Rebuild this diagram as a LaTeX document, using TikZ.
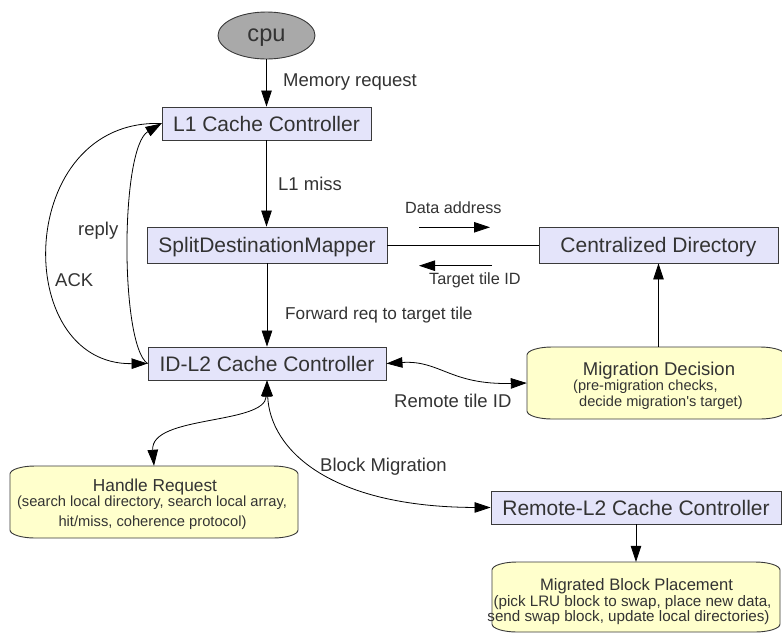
\documentclass[tikz,border=0pt]{standalone}
\usepackage{fontspec}
\setmainfont{Liberation Sans}
\usetikzlibrary{arrows.meta,shapes.geometric,calc}

\definecolor{ink}{HTML}{333333}
\definecolor{edge}{HTML}{3A3A3A}
\definecolor{lav}{HTML}{E4E4FA}
\definecolor{cream}{HTML}{FFFFCC}
\definecolor{cpugray}{HTML}{A9A9A9}

\newcommand{\fs}[1]{\fontsize{#1}{#1}\selectfont}

\tikzset{
  unitbox/.style={draw=edge, fill=lav, line width=0.9pt, inner sep=0pt, text=ink,
    font=\fs{21}, text height=15pt, text depth=0pt},
  lbl/.style={anchor=base west, inner sep=0pt, text=ink, font=\fs{18.5}},
  txtline/.style={anchor=base, inner sep=0pt, text=ink},
  txtleft/.style={anchor=base west, inner sep=0pt, text=ink},
  frame/.style={inner sep=0pt, draw=none},
  tip/.tip={Triangle[length=16pt,width=10.5pt]},
  arr/.style={line width=0.8pt, -tip},
  darr/.style={line width=0.8pt, tip-tip},
  plain/.style={line width=0.8pt},
  softfill/.style={draw=edge, fill=cream, line width=0.9pt},
}

% box with elliptical corners: (#1,#2) top left, (#3,#4) bottom right
\newcommand{\softbox}[4]{%
  \draw[softfill] (#1,#2+8) .. controls (#1,#2+3.6) and (#1+11.2,#2) .. (#1+25,#2)
    -- (#3-25,#2) .. controls (#3-11.2,#2) and (#3,#2+3.6) .. (#3,#2+8)
    -- (#3,#4-8) .. controls (#3,#4-3.6) and (#3-11.2,#4) .. (#3-25,#4)
    -- (#1+25,#4) .. controls (#1+11.2,#4) and (#1,#4-3.6) .. (#1,#4-8) -- cycle;}

\begin{document}
\begin{tikzpicture}[x=1pt,y=-1pt]
\useasboundingbox (0,0) rectangle (782,633);
\fill[white] (0,0) rectangle (782,633);

% processor
\node[ellipse, draw=edge, fill=cpugray, line width=0.9pt, minimum width=97pt,
  minimum height=47pt, inner sep=0pt, text=ink, font=\fs{23.6},
  text height=12pt, text depth=0pt] (cpu) at (266.5,35.5) {cpu};

% controllers
\node[unitbox, minimum width=209pt, minimum height=33pt] (l1) at (266.5,123.5) {L1 Cache Controller};
\node[unitbox, minimum width=240pt, minimum height=36pt] (sdm) at (267,245) {SplitDestinationMapper};
\node[unitbox, minimum width=239pt, minimum height=36pt] (cd) at (658.5,245) {Centralized Directory};
\node[unitbox, minimum width=238pt, minimum height=33pt] (l2) at (267,363.5) {ID-L2 Cache Controller};
\node[unitbox, minimum width=290pt, minimum height=33pt] (rl2) at (636,507.5) {Remote-L2 Cache Controller};

% activity boxes
\softbox{527}{347}{785}{419}
\node[frame, minimum width=258pt, minimum height=72pt] (md) at (656,383) {};
\node[txtline, font=\fs{18.5}] (mdT) at (659,375) {Migration Decision};
\node[txtleft, font=\fs{14.6}] (md1) at (573,390) {(pre-migration checks,};
\node[txtleft, font=\fs{14.6}] (md2) at (579,406) {decide migration\textquotesingle s target)};

\softbox{10}{466}{298}{538}
\node[frame, minimum width=288pt, minimum height=72pt] (hr) at (154,502) {};
\node[txtline, font=\fs{17.3}] (hrT) at (155,491.5) {Handle Request};
\node[txtline, font=\fs{14.7}] (hr1) at (152,506.5) {(search local directory, search local array,};
\node[txtline, font=\fs{14.7}] (hr2) at (152.5,526) {hit/miss, coherence protocol)};

\softbox{492}{562}{780}{632}
\node[frame, minimum width=288pt, minimum height=70pt] (mbp) at (636,597) {};
\node[txtline, font=\fs{16.6}] (mbpT) at (636.5,590) {Migrated Block Placement};
\node[txtline, font=\fs{15.2}] (mbp1) at (632.5,606) {(pick LRU block to swap, place new data,};
\node[txtline, font=\fs{15.2}] (mbp2) at (628.5,621.5) {send swap block, update local directories)};

% straight connectors
\draw[arr] (cpu) -- (l1);
\draw[arr] (l1.south) -- (l1.south |- sdm.north);
\draw[arr] (sdm.south) -- (sdm.south |- l2.north);
\draw[plain] (sdm) -- (cd);
\draw[arr] (md.north -| cd.south) -- (cd.south);
\draw[arr] (rl2.south) -- (mbp.north);

% direction markers along the directory link
\coordinate (da1) at (419,227.3);
\coordinate (da2) at (490,227.3);
\draw[arr] (da1) -- (da2);
\coordinate (tt1) at (492,265.7);
\coordinate (tt2) at (419,265.7);
\draw[arr] (tt1) -- (tt2);

% curved connectors
\draw[arr] (l1.west) .. controls (15,118) and (10,365) .. (l2.west);
\draw[arr] (l2.west) .. controls (120,345) and (120,148) .. (l1.west);
\draw[darr] (l2.south) .. controls (265,425) and (150,415) .. (hr.north);
\draw[darr] (l2.south) .. controls (270,450) and (330,507) .. (rl2.west);
\draw[darr] (l2.east) .. controls (440,360) and (450,385) .. (md.west);

% labels
\node[lbl] (memreq) at (283,86) {Memory request};
\node[lbl] (l1miss) at (278,190) {L1 miss};
\node[lbl, font=\fs{16.2}] (daddr) at (405,213) {Data address};
\node[lbl, font=\fs{16.3}] (ttid) at (429,284) {Target tile ID};
\node[lbl, font=\fs{17.2}] (fwd) at (285,319) {Forward req to target tile};
\node[lbl] (rtid) at (394,407) {Remote tile ID};
\node[lbl] (bmig) at (320,471) {Block Migration};
\node[lbl] (reply) at (78,235) {reply};
\node[lbl] (ack) at (55,286) {ACK};
\end{tikzpicture}
\end{document}
